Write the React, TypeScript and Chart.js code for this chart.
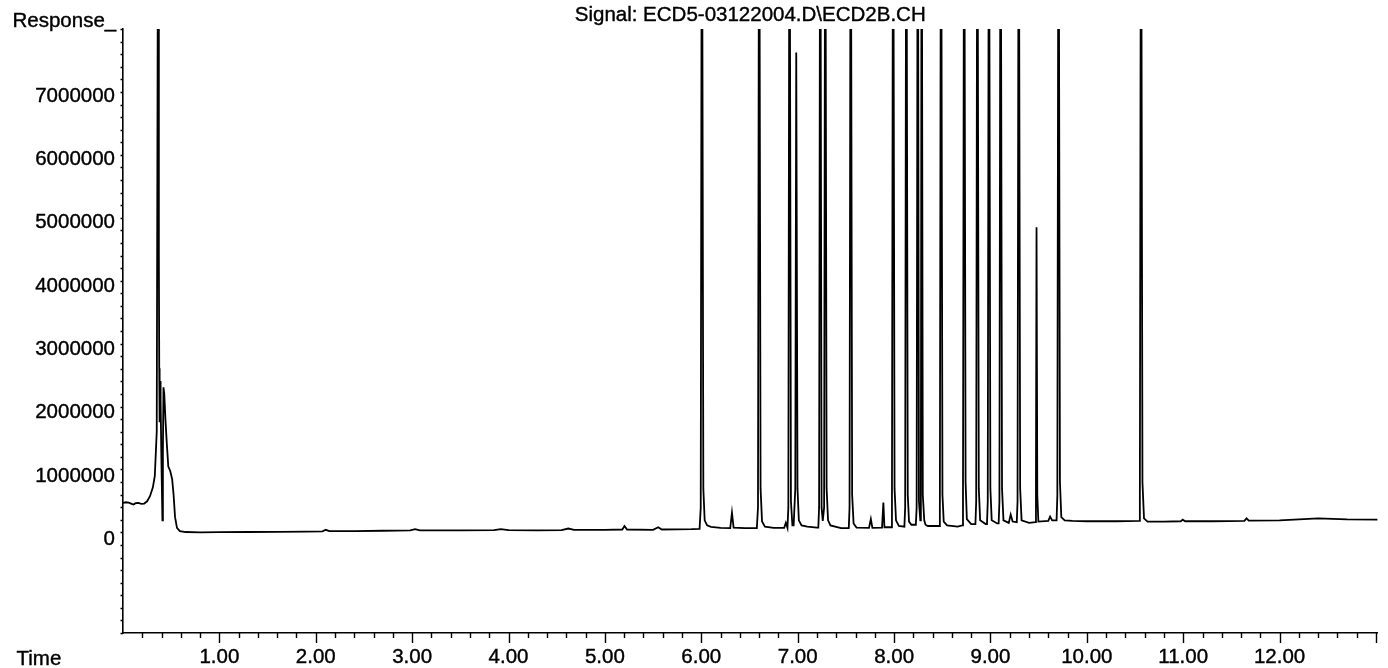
import { useEffect, useRef } from 'react';
import { Chart, registerables } from 'chart.js';

Chart.register(...registerables);

const TITLE = 'Signal: ECD5-03122004.D\\ECD2B.CH';
const Y_LABEL = 'Response_';
const X_LABEL = 'Time';

// retention time (min)
const retentionTime = [
  0.0, 0.03, 0.06, 0.09, 0.11, 0.13, 0.16, 0.19, 0.22, 0.25, 0.28, 0.31, 0.33, 0.35,
  0.366, 0.372, 0.376, 0.38, 0.385, 0.39, 0.398, 0.409, 0.414, 0.42, 0.428, 0.44, 0.455,
  0.47, 0.49, 0.51, 0.525, 0.54, 0.56, 0.59, 0.65, 0.8, 1.0, 1.3, 1.6, 1.9, 2.07, 2.104,
  2.14, 2.4, 2.7, 2.98, 3.03, 3.08, 3.5, 3.85, 3.92, 4.0, 4.3, 4.55, 4.62, 4.68, 5.0,
  5.18, 5.203, 5.23, 5.5, 5.553, 5.59, 5.9, 5.982,
  5.994, 6.006, 6.021, 6.035, 6.06, 6.1, 6.2, 6.3, 6.318, 6.335, 6.45, 6.576,
  6.588, 6.6, 6.615, 6.63, 6.66, 6.75, 6.86, 6.877, 6.894,
  6.903, 6.915, 6.93, 6.945, 6.958, 6.975, 6.985, 6.998, 7.012, 7.04, 7.1, 7.2, 7.214,
  7.222, 7.234, 7.248, 7.26, 7.274, 7.286, 7.3, 7.315, 7.34, 7.45, 7.53,
  7.538, 7.55, 7.565, 7.58, 7.61, 7.74, 7.759, 7.775, 7.875, 7.889, 7.9, 7.97,
  7.978, 7.99, 8.005, 8.02, 8.05, 8.107, 8.115, 8.127, 8.142, 8.155, 8.18, 8.226,
  8.234, 8.246, 8.258, 8.272, 8.278, 8.286, 8.298, 8.313, 8.326, 8.35, 8.43, 8.467,
  8.475, 8.487, 8.502, 8.515, 8.55, 8.66, 8.707, 8.715, 8.727, 8.742, 8.755, 8.8, 8.844,
  8.852, 8.864, 8.879, 8.893, 8.95, 8.964, 8.972, 8.984, 8.999, 9.013, 9.07, 9.085,
  9.093, 9.105, 9.12, 9.135, 9.19, 9.21, 9.23, 9.273, 9.281, 9.293, 9.308, 9.323, 9.4,
  9.466, 9.472, 9.478, 9.486, 9.497, 9.6, 9.619, 9.64, 9.686, 9.694, 9.706, 9.721, 9.735,
  9.77, 9.85, 10.0, 10.3, 10.542, 10.55, 10.562, 10.577, 10.593, 10.63, 10.8, 10.975,
  10.995, 11.02, 11.3, 11.635, 11.657, 11.68, 12.0, 12.4, 12.7, 13.02,
];

// detector response
const response = [
  575000, 585000, 580000, 560000, 550000, 570000, 575000, 560000, 565000, 600000, 680000, 820000, 1000000, 1700000,
  12000000, 4500000, 2700000, 1850000, 2500000, 2200000, 1300000, 300000, 1400000, 2400000, 2300000, 1900000, 1500000,
  1150000, 1080000, 950000, 700000, 350000, 180000, 130000, 115000, 110000, 112000, 115000, 118000, 120000, 125000, 150000,
  128000, 130000, 135000, 140000, 160000, 140000, 140000, 145000, 160000, 145000, 140000, 145000, 170000, 150000, 150000,
  155000, 210000, 155000, 150000, 190000, 155000, 160000, 165000,
  500000, 12000000, 800000, 300000, 220000, 195000, 180000, 178000, 420000, 185000, 175000, 175000,
  500000, 12000000, 800000, 280000, 200000, 180000, 180000, 260000, 180000,
  500000, 12000000, 600000, 220000, 220000, 800000, 7690000, 800000, 300000, 220000, 200000, 185000, 185000,
  500000, 12000000, 500000, 290000, 500000, 12000000, 800000, 300000, 220000, 175000, 175000,
  500000, 12000000, 700000, 250000, 185000, 180000, 320000, 180000, 185000, 580000, 190000, 190000,
  600000, 12000000, 800000, 300000, 210000, 200000, 500000, 12000000, 700000, 280000, 230000, 230000,
  500000, 12000000, 600000, 300000, 600000, 12000000, 700000, 300000, 230000, 210000, 210000, 210000,
  500000, 12000000, 700000, 280000, 220000, 200000, 220000, 600000, 12000000, 900000, 320000, 240000, 240000,
  600000, 12000000, 800000, 300000, 240000, 240000, 600000, 12000000, 800000, 300000, 250000, 250000,
  600000, 12000000, 800000, 300000, 260000, 390000, 280000, 270000, 600000, 12000000, 800000, 300000, 260000,
  270000, 1000000, 4930000, 700000, 280000, 290000, 360000, 300000, 300000, 700000, 12000000, 900000, 350000,
  300000, 290000, 285000, 285000, 290000, 600000, 12000000, 900000, 330000, 280000, 280000, 285000,
  310000, 285000, 285000, 290000, 330000, 295000, 300000, 330000, 315000, 310000,
];

const X_MIN = 0;
const X_MAX = 13.015;
const X_STEP = 0.2;
const Y_MIN = -1480000;
const Y_MAX = 8060000;
const Y_STEP = 200000;
const Y_LABELED = [0, 1000000, 2000000, 3000000, 4000000, 5000000, 6000000, 7000000];
const X_LABELED = [1, 2, 3, 4, 5, 6, 7, 8, 9, 10, 11, 12];

const FONT = '"Liberation Sans", Arial, Helvetica, sans-serif';
const FS = 20.5;

const decorPlugin = {
  id: 'decor',
  afterDraw(chart: any) {
    const { ctx, scales, chartArea } = chart;
    const xs = scales.x;
    const ys = scales.y;
    ctx.save();
    ctx.strokeStyle = '#000';
    ctx.lineWidth = 1.4;
    ctx.beginPath();
    xs.ticks.forEach((t: any) => {
      const v = Math.round(t.value * 1000) / 1000;
      if (v <= 0) return;
      const px = Math.round(xs.getPixelForValue(t.value)) + 0.5;
      const major = Math.abs(v - Math.round(v)) < 1e-6;
      ctx.moveTo(px, chartArea.bottom);
      ctx.lineTo(px, chartArea.bottom + (major ? 10 : 5));
    });
    ys.ticks.forEach((t: any) => {
      const py = Math.round(ys.getPixelForValue(t.value)) + 0.5;
      const major = Math.abs(t.value / 1000000 - Math.round(t.value / 1000000)) < 1e-6;
      ctx.moveTo(chartArea.left, py);
      ctx.lineTo(chartArea.left - (major ? 5 : 2.5), py);
    });
    ctx.stroke();

    ctx.fillStyle = '#000';
    ctx.strokeStyle = '#000';
    ctx.lineWidth = 0.4;
    ctx.font = `${FS}px ${FONT}`;
    const txt = (s: string, x: number, y: number) => {
      ctx.fillText(s, x, y);
      ctx.strokeText(s, x, y);
    };
    // y tick labels
    ctx.textAlign = 'right';
    ctx.textBaseline = 'middle';
    Y_LABELED.forEach((v) => {
      txt(String(v), chartArea.left - 8, ys.getPixelForValue(v));
    });
    ctx.textBaseline = 'alphabetic';
    ctx.textAlign = 'center';
    txt(TITLE, (chartArea.left + chartArea.right) / 2, 21);
    ctx.textAlign = 'left';
    txt(Y_LABEL, 12.5, 26.5);
    txt(X_LABEL, 16.5, 665);
    ctx.restore();
  },
};

export default function App() {
  const ref = useRef<HTMLCanvasElement | null>(null);
  useEffect(() => {
    if (!ref.current) return;
    const points = retentionTime.map((t, i) => ({ x: t, y: response[i] }));
    const chart = new Chart(ref.current, {
      type: 'line',
      data: {
        datasets: [
          {
            data: points,
            borderColor: '#000',
            borderWidth: 1.8,
            pointRadius: 0,
            tension: 0,
            fill: false,
          },
        ],
      },
      options: {
        animation: false,
        responsive: false,
        maintainAspectRatio: false,
        devicePixelRatio: 1,
        layout: { padding: { top: 29, left: 0, right: 0, bottom: 0 } },
        plugins: { legend: { display: false }, tooltip: { enabled: false }, title: { display: false } },
        scales: {
          x: {
            type: 'linear',
            min: X_MIN,
            max: X_MAX,
            grid: { display: false, drawTicks: false },
            border: { display: true, color: '#000', width: 1.6 },
            afterFit: (s: any) => {
              s.height = 35;
            },
            ticks: {
              stepSize: X_STEP,
              includeBounds: false,
              autoSkip: false,
              maxRotation: 0,
              minRotation: 0,
              padding: 12,
              color: '#000',
              textStrokeColor: '#000',
              textStrokeWidth: 0.4,
              font: { family: FONT, size: FS },
              callback: (v: any) => {
                const n = Math.round(Number(v) * 1000) / 1000;
                return X_LABELED.includes(n) ? n.toFixed(2) : '';
              },
            },
          },
          y: {
            type: 'linear',
            min: Y_MIN,
            max: Y_MAX,
            grid: { display: false, drawTicks: false },
            border: { display: true, color: '#000', width: 1.6 },
            afterFit: (s: any) => {
              s.width = 123;
            },
            ticks: {
              stepSize: Y_STEP,
              includeBounds: false,
              autoSkip: false,
              display: false,
            },
          },
        },
      },
      plugins: [decorPlugin],
    });
    return () => chart.destroy();
  }, []);
  return (
    <div style={{ position: 'absolute', left: 0, top: 0, width: 1388, height: 668, background: '#fff' }}>
      <canvas ref={ref} width={1388} height={668} style={{ width: 1388, height: 668, display: 'block' }} />
    </div>
  );
}
